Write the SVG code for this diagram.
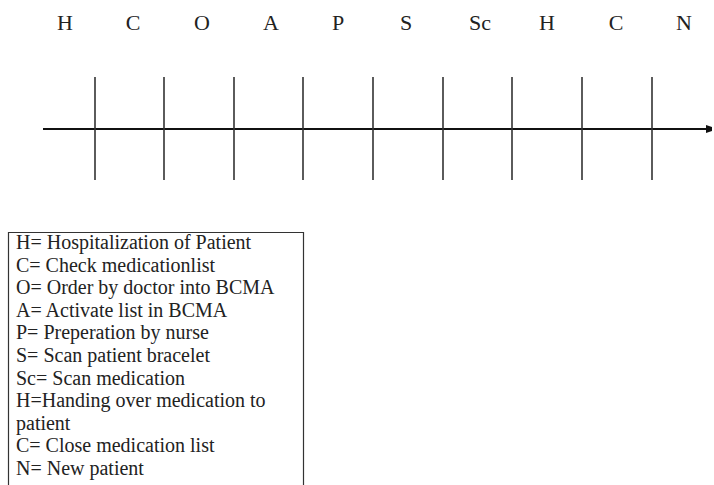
<svg xmlns="http://www.w3.org/2000/svg" width="714" height="485" viewBox="0 0 714 485">
<style>
.lbl{font-family:"Liberation Serif","Times New Roman",serif;font-size:22px;fill:#222;text-anchor:middle}
.leg{font-family:"Liberation Serif","Times New Roman",serif;font-size:20px;fill:#222}
.tick{stroke:#333;stroke-width:1.6}
</style>
<defs>
<marker id="arr" markerWidth="3" markerHeight="4" refX="2" refY="2" orient="auto" markerUnits="strokeWidth">
<path d="M0,0 L3,1 L3,3 L0,4 z" fill="#111"/>
</marker>
</defs>
<rect width="714" height="485" fill="#fff"/>
<g id="labels">
<text class="lbl" x="65" y="30">H</text>
<text class="lbl" x="133" y="30">C</text>
<text class="lbl" x="202" y="30">O</text>
<text class="lbl" x="271" y="30">A</text>
<text class="lbl" x="338" y="30">P</text>
<text class="lbl" x="406" y="30">S</text>
<text class="lbl" x="480" y="30">Sc</text>
<text class="lbl" x="547" y="30">H</text>
<text class="lbl" x="616" y="30">C</text>
<text class="lbl" x="684" y="30">N</text>
</g>
<g id="connectors">
<line x1="43" y1="129" x2="710" y2="129" stroke="#111" stroke-width="2" marker-end="url(#arr)"/>
<line class="tick" x1="95" y1="77" x2="95" y2="180"/>
<line class="tick" x1="164" y1="77" x2="164" y2="180"/>
<line class="tick" x1="234" y1="77" x2="234" y2="180"/>
<line class="tick" x1="303" y1="77" x2="303" y2="180"/>
<line class="tick" x1="373" y1="77" x2="373" y2="180"/>
<line class="tick" x1="443" y1="77" x2="443" y2="180"/>
<line class="tick" x1="512" y1="77" x2="512" y2="180"/>
<line class="tick" x1="582" y1="77" x2="582" y2="180"/>
<line class="tick" x1="652" y1="77" x2="652" y2="180"/>
</g>
<g id="legend">
<path d="M8.5,486 V232.5 H303.5 V486" fill="none" stroke="#333" stroke-width="1.2"/>
<text class="leg" x="16" y="249">H= Hospitalization of Patient</text>
<text class="leg" x="16" y="271.6">C= Check medicationlist</text>
<text class="leg" x="16" y="294.2">O= Order by doctor into BCMA</text>
<text class="leg" x="16" y="316.8">A= Activate list in BCMA</text>
<text class="leg" x="16" y="339.4">P= Preperation by nurse</text>
<text class="leg" x="16" y="362">S= Scan patient bracelet</text>
<text class="leg" x="16" y="384.6">Sc= Scan medication</text>
<text class="leg" x="16" y="407.2">H=Handing over medication to</text>
<text class="leg" x="16" y="429.8">patient</text>
<text class="leg" x="16" y="452.4">C= Close medication list</text>
<text class="leg" x="16" y="475">N= New patient</text>
</g>
</svg>
